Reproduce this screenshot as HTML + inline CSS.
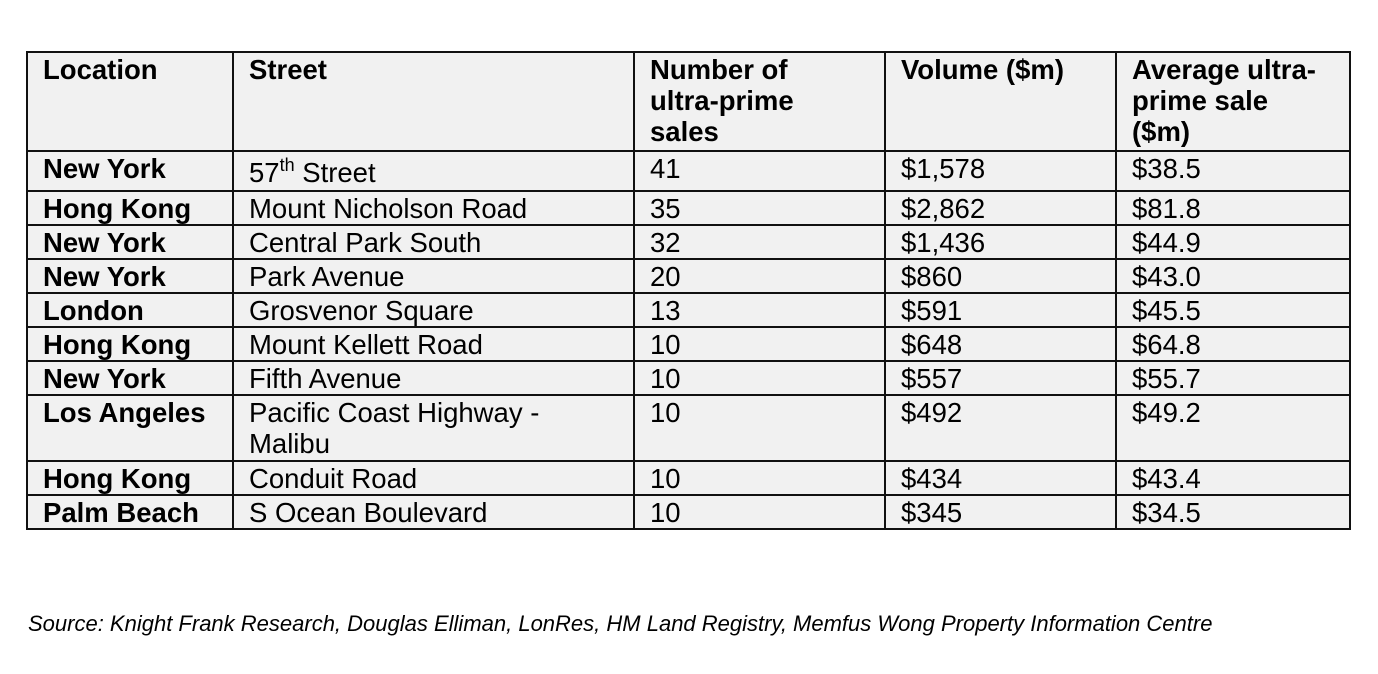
<!DOCTYPE html>
<html><head><meta charset="utf-8"><style>
body{margin:0;width:1378px;height:674px;background:#fff;position:relative;font-family:"Liberation Sans",Arial,sans-serif;overflow:hidden}
table{position:absolute;left:26px;top:51px;border-collapse:collapse;background:#f1f1f1;table-layout:fixed}
td{border:2px solid #111;padding:1px 0 0 15px;vertical-align:top;font-size:27.5px;line-height:31px;color:#000;box-sizing:border-box;white-space:nowrap}
tr{height:34px}
td.b{font-weight:bold}
.h td{font-weight:bold;height:99px}
sup{font-size:18px;line-height:0;vertical-align:11px}
.src{position:absolute;left:28px;top:611px;font-style:italic;font-size:22px;color:#000}
</style></head><body>
<table>
<colgroup><col style="width:206px"><col style="width:401px"><col style="width:251px"><col style="width:231px"><col style="width:234px"></colgroup>
<tr class="h"><td>Location</td><td>Street</td><td>Number of<br>ultra-prime<br>sales</td><td>Volume ($m)</td><td>Average ultra-<br>prime sale<br>($m)</td></tr>
<tr style="height:40px"><td class="b">New York</td><td style="padding-top:5px">57<sup>th</sup> Street</td><td>41</td><td>$1,578</td><td>$38.5</td></tr>
<tr><td class="b">Hong Kong</td><td>Mount Nicholson Road</td><td>35</td><td>$2,862</td><td>$81.8</td></tr>
<tr><td class="b">New York</td><td>Central Park South</td><td>32</td><td>$1,436</td><td>$44.9</td></tr>
<tr><td class="b">New York</td><td>Park Avenue</td><td>20</td><td>$860</td><td>$43.0</td></tr>
<tr><td class="b">London</td><td>Grosvenor Square</td><td>13</td><td>$591</td><td>$45.5</td></tr>
<tr><td class="b">Hong Kong</td><td>Mount Kellett Road</td><td>10</td><td>$648</td><td>$64.8</td></tr>
<tr><td class="b">New York</td><td>Fifth Avenue</td><td>10</td><td>$557</td><td>$55.7</td></tr>
<tr style="height:66px"><td class="b">Los Angeles</td><td>Pacific Coast Highway -<br>Malibu</td><td>10</td><td>$492</td><td>$49.2</td></tr>
<tr><td class="b">Hong Kong</td><td>Conduit Road</td><td>10</td><td>$434</td><td>$43.4</td></tr>
<tr><td class="b">Palm Beach</td><td>S Ocean Boulevard</td><td>10</td><td>$345</td><td>$34.5</td></tr>
</table>
<div class="src">Source: Knight Frank Research, Douglas Elliman, LonRes, HM Land Registry, Memfus Wong Property Information Centre</div>
</body></html>
